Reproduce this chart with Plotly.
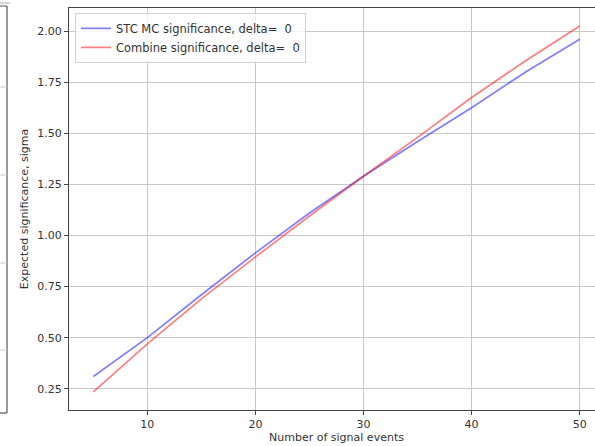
import plotly.graph_objects as go

n_signal = [5, 10, 15, 20, 25, 30, 35, 40, 45, 50]
stc_mc = [0.31, 0.50, 0.71, 0.915, 1.11, 1.29, 1.46, 1.625, 1.80, 1.96]
combine = [0.235, 0.47, 0.69, 0.895, 1.095, 1.29, 1.48, 1.675, 1.855, 2.025]
y_ticks = [0.25, 0.50, 0.75, 1.00, 1.25, 1.50, 1.75, 2.00]
x_ticks = [10, 20, 30, 40, 50]

FONT = "DejaVu Sans"
PW = 535  # plot width in px (extends past the visible window on the right)

fig = go.Figure()
fig.add_trace(go.Scatter(x=n_signal, y=stc_mc, mode="lines",
                         name="STC MC significance, delta=  0",
                         line=dict(color="rgba(0,0,255,0.5)", width=1.7)))
fig.add_trace(go.Scatter(x=n_signal, y=combine, mode="lines",
                         name="Combine significance, delta=  0",
                         line=dict(color="rgba(255,0,0,0.5)", width=1.7)))

fig.update_layout(
    width=69 + PW, height=446,
    margin=dict(l=69, r=0, t=8, b=36, autoexpand=False),
    paper_bgcolor="white", plot_bgcolor="white",
    font=dict(family=FONT, size=11, color="#333333"),
    showlegend=True,
    legend=dict(x=6 / PW, y=0.988, xanchor="left", yanchor="top",
                bgcolor="rgba(255,255,255,0.8)", bordercolor="#d0d0d0", borderwidth=1,
                font=dict(family=FONT, size=11.5, color="#333333"),
                tracegroupgap=0, itemwidth=30),
    xaxis=dict(range=[2.75, 52.25], tickvals=x_ticks, ticktext=[str(v) for v in x_ticks],
               showgrid=True, gridcolor="#c8c8c8", gridwidth=1, automargin=False,
               showline=True, linecolor="#444444", linewidth=1.2, mirror=True,
               ticks="outside", ticklen=4, tickcolor="#444444", zeroline=False,
               title=dict(text="Number of signal events", standoff=2,
                          font=dict(family=FONT, size=11, color="#333333"))),
    yaxis=dict(range=[0.146, 2.113], tickvals=y_ticks, ticktext=[f"{v:.2f}" for v in y_ticks],
               showgrid=True, gridcolor="#c8c8c8", gridwidth=1, automargin=False,
               showline=True, linecolor="#444444", linewidth=1.2,
               ticks="outside", ticklen=4, tickcolor="#444444", zeroline=False,
               title=dict(text="Expected significance, sigma", standoff=6,
                          font=dict(family=FONT, size=11, color="#333333"))),
)

# remnant of neighbouring panel on the left
fig.add_shape(type="line", xref="paper", yref="paper", x0=-69/PW, x1=-62/PW,
              y0=1 + 2/402, y1=1 + 2/402, line=dict(color="#555555", width=1))
fig.add_shape(type="line", xref="paper", yref="paper", x0=-62/PW, x1=-62/PW,
              y0=1 + 2/402, y1=-3/402, line=dict(color="#555555", width=1.2))
fig.add_shape(type="line", xref="paper", yref="paper", x0=-69/PW, x1=-62/PW,
              y0=-3/402, y1=-3/402, line=dict(color="#555555", width=1.2))
for py in [87, 175, 263, 350]:
    yy = (410 - py) / 402
    fig.add_shape(type="line", xref="paper", yref="paper", x0=-69/PW, x1=-62/PW,
                  y0=yy, y1=yy, line=dict(color="#cccccc", width=1))
fig.add_shape(type="line", xref="paper", yref="paper", x0=-69/PW, x1=-59/PW,
              y0=1 + 5/402, y1=1 + 5/402, line=dict(color="#aaaaaa", width=1))

fig.write_html("out.html", config={"displayModeBar": False},
               post_script="document.body.style.margin='0';document.body.style.overflow='hidden';")
